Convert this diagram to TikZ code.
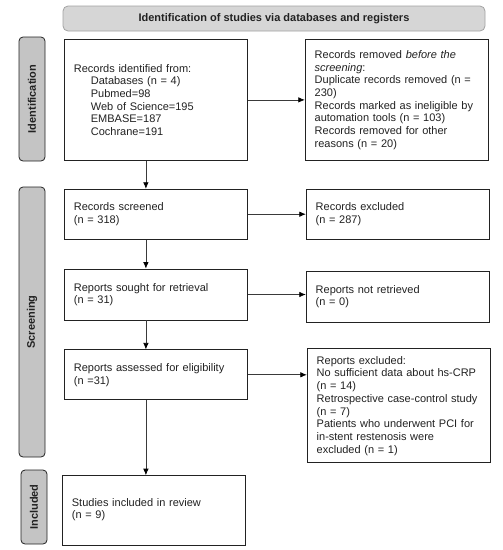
\documentclass[tikz,border=0pt]{standalone}
\usepackage{fontspec}
\setmainfont{Liberation Sans}
\usetikzlibrary{positioning,arrows.meta}
\definecolor{boxline}{HTML}{222222}
\definecolor{arrline}{HTML}{3A3A3A}
\definecolor{bannerfill}{HTML}{D6D6D6}
\definecolor{bannerline}{HTML}{A2A2A2}
\definecolor{phasefill}{HTML}{C4C4C4}

\begin{document}
\begin{tikzpicture}[>={Latex[length=6.5pt,width=5.5pt,black]}, semithick, x=1pt, y=1pt,
   every node/.style={font=\fontsize{11}{12.7}\selectfont, text=boxline},
   box/.style={draw=boxline, line width=0.8pt, fill=white, align=left, text width=164pt, inner xsep=9.5pt, inner ysep=0pt},
   phase/.style={draw=boxline, line width=0.8pt, fill=phasefill, rounded corners=4pt, rotate=90, minimum height=26pt, inner sep=0pt, font=\fontsize{11}{12.7}\selectfont\bfseries},
   banner/.style={draw=bannerline, line width=0.8pt, fill=bannerfill, rounded corners=5pt, minimum width=422pt, minimum height=25pt, font=\fontsize{11}{12.7}\selectfont\bfseries},
   flow/.style={->, draw=arrline, line width=0.7pt}]
   \useasboundingbox (0,0) rectangle (503,-550);
   \node[banner] (title) at (274,-18.5) {Identification of studies via databases and registers};
   \node[phase, minimum width=124pt] (idbar) at (32,-99) {Identification};
   \node[phase, minimum width=270pt] (scbar) at (32,-322) {Screening};
   \node[phase, minimum width=74pt] (inbar) at (34,-507) {Included};
   \node[box, minimum height=121pt, anchor=north west] (recid) at (64,-39)
      {Records identified from:\\
       \hspace*{17pt}Databases (n = 4)\\
       \hspace*{17pt}Pubmed=98\\
       \hspace*{17pt}Web of Science=195\\
       \hspace*{17pt}EMBASE=187\\
       \hspace*{17pt}Cochrane=191};
   \node[box, minimum height=121pt, right=57pt of recid] (recrem)
      {Records removed \textit{before the}\\
       \textit{screening}:\\
       Duplicate records removed (n =\\
       230)\\
       Records marked as ineligible by\\
       automation tools (n = 103)\\
       Records removed for other\\
       reasons (n = 20)};
   \node[box, minimum height=50pt, below=28pt of recid] (recscr) {Records screened\\(n = 318)};
   \node[box, minimum height=50pt, right=58pt of recscr] (recexc) {Records excluded\\(n = 287)};
   \node[box, minimum height=51pt, below=29pt of recscr] (repsou) {Reports sought for retrieval\\(n = 31)};
   \node[box, minimum height=51pt, right=58pt of repsou, yshift=-2pt] (repnot) {Reports not retrieved\\(n = 0)};
   \node[box, minimum height=50pt, below=29pt of repsou] (repass) {Reports assessed for eligibility\\(n =31)};
   \node[box, minimum height=114pt, right=59pt of repass.north east, anchor=north west, yshift=1pt] (repexc)
      {Reports excluded:\\
       No sufficient data about hs-CRP\\
       (n = 14)\\
       Retrospective case-control study\\
       (n = 7)\\
       Patients who underwent PCI for\\
       in-stent restenosis were\\
       excluded (n = 1)};
   \node[box, minimum height=70pt, text depth=17pt, below=75pt of repass, xshift=-2pt] (incl) {Studies included in review\\(n = 9)};
   \draw[flow] (recid) -- (recrem);
   \draw[flow] (recscr) -- (recexc);
   \draw[flow] (repsou.east) -- (repsou.east -| repnot.west);
   \draw[flow] (repass.east) -- (repass.east -| repexc.west);
   \draw[flow] ([xshift=-10pt]recid.south) -- ([xshift=-10pt]recscr.north);
   \draw[flow] ([xshift=-10pt]recscr.south) -- ([xshift=-10pt]repsou.north);
   \draw[flow] ([xshift=-10pt]repsou.south) -- ([xshift=-10pt]repass.north);
   \draw[flow] ([xshift=-10pt]repass.south) -- ([xshift=-10pt]repass.south |- incl.north);
\end{tikzpicture}
\end{document}
